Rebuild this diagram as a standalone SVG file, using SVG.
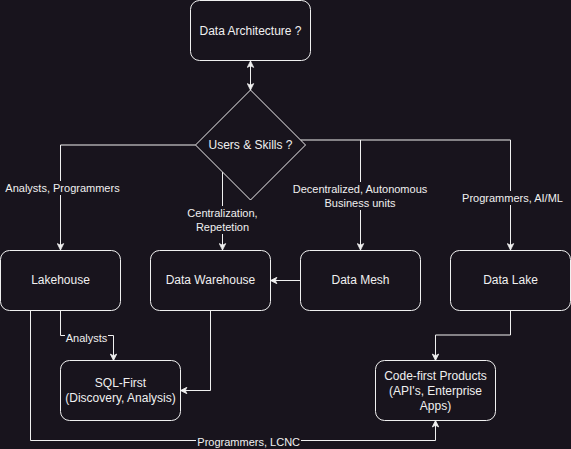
<svg xmlns="http://www.w3.org/2000/svg" width="571" height="449" viewBox="0 0 571 449">
<defs>
<marker id="arr" viewBox="0 0 10 10" refX="9" refY="5" markerWidth="8" markerHeight="8" markerUnits="userSpaceOnUse" orient="auto-start-reverse">
<path d="M1,1 L9,5 L1,9 L3,5 z" fill="#f0f0f0" stroke="#f0f0f0" stroke-width="1"/>
</marker>
</defs>
<style>
.node rect, .node path{fill:#18141d;stroke:#f0f0f0;stroke-width:1}
.node text{fill:#f0f0f0;font-family:"Liberation Sans",Arial,sans-serif;font-size:12px;text-anchor:middle;dominant-baseline:central}
.edge{fill:none;stroke:#f0f0f0;stroke-width:1}
.lblbg{fill:#18141d}
.lbl{fill:#f0f0f0;font-family:"Liberation Sans",Arial,sans-serif;font-size:11px;text-anchor:middle;dominant-baseline:central}
</style>
<rect x="0" y="0" width="571" height="449" fill="#18141d"/>
<g id="connectors">
<path class="edge" d="M250.5,61 L250.5,90" marker-start="url(#arr)" marker-end="url(#arr)"/>
<path class="edge" d="M195.5,145 L60.5,145 L60.5,250" marker-end="url(#arr)"/>
<path class="edge" d="M222.5,172 L222.5,250" marker-end="url(#arr)"/>
<path class="edge" d="M300.5,140 L510.5,140 L510.5,250" marker-end="url(#arr)"/>
<path class="edge" d="M360.5,140 L360.5,250" marker-end="url(#arr)"/>
<path class="edge" d="M300.5,280.5 L270.5,280.5" marker-end="url(#arr)"/>
<path class="edge" d="M60.5,310.5 L60.5,335.5 L113.5,335.5 L113.5,360.5" marker-end="url(#arr)"/>
<path class="edge" d="M210.5,310.5 L210.5,390.5 L180.5,390.5" marker-end="url(#arr)"/>
<path class="edge" d="M510.5,310.5 L510.5,335 L435.5,335 L435.5,360.5" marker-end="url(#arr)"/>
<path class="edge" d="M30.5,310.5 L30.5,440.5 L435.5,440.5 L435.5,420.5" marker-end="url(#arr)"/>
<rect class="lblbg" x="4" y="181" width="117" height="14"/>
<text class="lbl" x="62.5" y="188">Analysts, Programmers</text>
<rect class="lblbg" x="186" y="206" width="73" height="28"/>
<text class="lbl" x="222.5" y="213.3">Centralization,</text>
<text class="lbl" x="222.5" y="227.3">Repetetion</text>
<rect class="lblbg" x="292" y="182" width="136" height="28"/>
<text class="lbl" x="360" y="189">Decentralized, Autonomous</text>
<text class="lbl" x="360" y="203">Business units</text>
<rect class="lblbg" x="461" y="191" width="103" height="14"/>
<text class="lbl" x="512.5" y="198.3">Programmers, AI/ML</text>
<rect class="lblbg" x="65" y="331" width="43" height="14"/>
<text class="lbl" x="86.5" y="338.3">Analysts</text>
<rect class="lblbg" x="196" y="434" width="105" height="14"/>
<text class="lbl" x="248.7" y="442">Programmers, LCNC</text>
</g>
<g id="data-architecture" class="node">
<rect x="190.5" y="0.5" width="120" height="60" rx="9" ry="9"/>
<text x="250.5" y="30.5">Data Architecture ?</text>
</g>
<g id="users-skills" class="node">
<path d="M250.5,90 L305.5,145 L250.5,200 L195.5,145 Z"/>
<text x="250.5" y="145">Users &amp; Skills ?</text>
</g>
<g id="lakehouse" class="node">
<rect x="0.5" y="250.5" width="120" height="60" rx="9" ry="9"/>
<text x="60.5" y="280">Lakehouse</text>
</g>
<g id="data-warehouse" class="node">
<rect x="150.5" y="250.5" width="120" height="60" rx="9" ry="9"/>
<text x="210.5" y="280">Data Warehouse</text>
</g>
<g id="data-mesh" class="node">
<rect x="300.5" y="250.5" width="120" height="60" rx="9" ry="9"/>
<text x="360.5" y="280">Data Mesh</text>
</g>
<g id="data-lake" class="node">
<rect x="450.5" y="250.5" width="120" height="60" rx="9" ry="9"/>
<text x="510.5" y="280">Data Lake</text>
</g>
<g id="sql-first" class="node">
<rect x="60.5" y="360.5" width="120" height="60" rx="9" ry="9"/>
<text x="120.5" y="383">SQL-First</text>
<text x="120.5" y="398">(Discovery, Analysis)</text>
</g>
<g id="code-first" class="node">
<rect x="375.5" y="360.5" width="120" height="60" rx="9" ry="9"/>
<text x="435.5" y="376">Code-first Products</text>
<text x="435.5" y="390.7">(API's, Enterprise</text>
<text x="435.5" y="405.5">Apps)</text>
</g>
</svg>
